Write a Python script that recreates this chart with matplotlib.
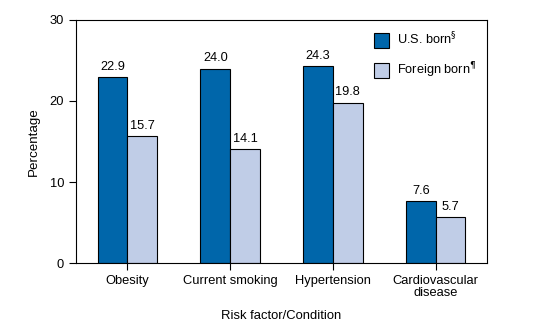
import numpy as np
import matplotlib
matplotlib.use("Agg")
import matplotlib.pyplot as plt
from matplotlib.patches import Patch

plt.rcParams['font.family'] = ['Liberation Sans', 'DejaVu Sans']

categories = ['Obesity', 'Current smoking', 'Hypertension', 'Cardiovascular\ndisease']
us_born = [22.9, 24.0, 24.3, 7.6]
foreign_born = [15.7, 14.1, 19.8, 5.7]
series_labels = ['U.S. born$^{\\S}$', 'Foreign born$^{\\P}$']

BLUE = '#0066AA'
LIGHT = '#C0CDE7'

fig = plt.figure(figsize=(5.43, 3.26), dpi=100)
ax = fig.add_axes([0.14, 0.193, 0.757, 0.746])

x = np.arange(len(categories))
w = 0.29
b1 = ax.bar(x - w / 2, us_born, w, color=BLUE, edgecolor='black', linewidth=0.8)
b2 = ax.bar(x + w / 2, foreign_born, w, color=LIGHT, edgecolor='black', linewidth=0.8)

for bars, vals in ((b1, us_born), (b2, foreign_born)):
    for bar, v in zip(bars, vals):
        ax.annotate(f"{v:.1f}", (bar.get_x() + bar.get_width() / 2, v),
                    xytext=(0, 3), textcoords='offset points',
                    ha='center', va='bottom', fontsize=9.2)

ax.set_xlim(-0.5, 3.5)
ax.set_ylim(0, 30)
ax.set_yticks([0, 10, 20, 30])
ax.set_xticks(x)
ax.set_xticklabels(categories, fontsize=9.3, linespacing=1.05)
ax.tick_params(axis='y', labelsize=9.3, length=5, width=0.8, direction='out')
ax.tick_params(axis='x', length=5, width=0.8, direction='out')
ax.set_ylabel('Percentage', fontsize=9.6, labelpad=7)
ax.set_xlabel('Risk factor/Condition', fontsize=9.4, labelpad=8)

for sp in ax.spines.values():
    sp.set_linewidth(0.8)

handles = [Patch(facecolor=BLUE, edgecolor='black', linewidth=0.8),
           Patch(facecolor=LIGHT, edgecolor='black', linewidth=0.8)]
ax.legend(handles, series_labels, loc='upper right', frameon=False, fontsize=9.2,
          handlelength=1.2, handleheight=1.4, labelspacing=1.0, handletextpad=0.55,
          borderaxespad=0, bbox_to_anchor=(0.985, 0.975))

fig.savefig('out.png', dpi=100)
